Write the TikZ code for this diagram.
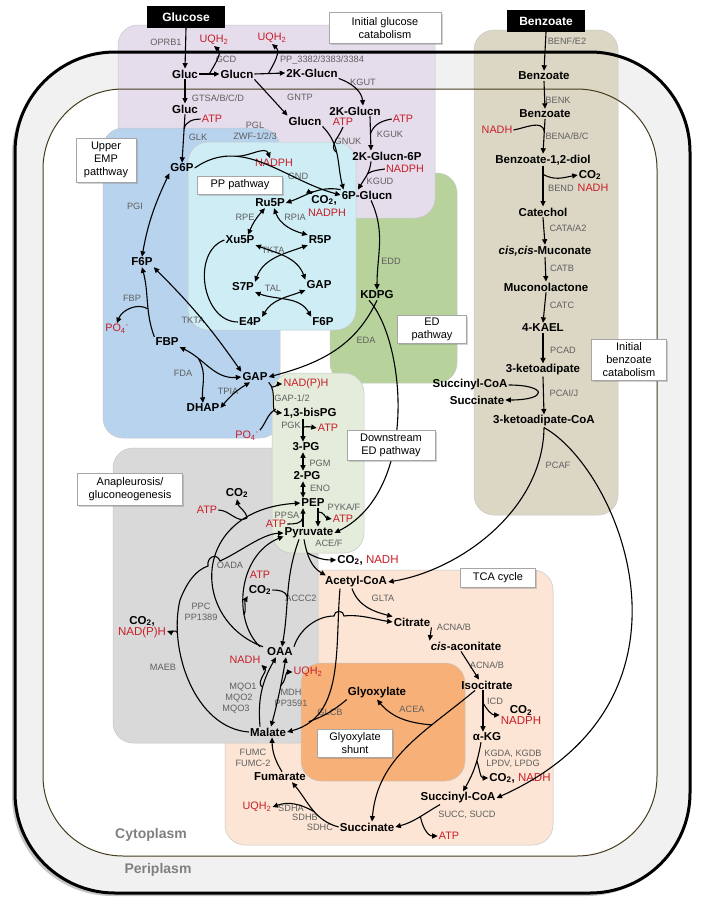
\documentclass[tikz,border=0pt]{standalone}
\usepackage{fontspec}
\setmainfont{Liberation Sans}
\usepackage{xcolor}
\usepackage{tikz}
\usetikzlibrary{arrows.meta,calc,shadows}

\definecolor{cofred}{RGB}{200,30,40}
\definecolor{enzgrey}{RGB}{95,95,95}
\definecolor{peri}{RGB}{241,241,241}
\definecolor{imem}{RGB}{70,60,30}
\definecolor{glcbg}{RGB}{229,221,236}
\definecolor{benzbg}{RGB}{220,215,196}
\definecolor{empbg}{RGB}{184,211,238}
\definecolor{ppbg}{RGB}{207,237,244}
\definecolor{edbg}{RGB}{183,211,155}
\definecolor{dsbg}{RGB}{228,236,220}
\definecolor{anabg}{RGB}{217,217,217}
\definecolor{tcabg}{RGB}{252,229,212}
\definecolor{gsbg}{RGB}{246,176,120}
\definecolor{cytogrey}{RGB}{128,128,128}

\tikzset{
  met/.style={font=\fontsize{11.5}{12.5}\selectfont\bfseries, inner sep=1pt},
  enz/.style={font=\fontsize{9.2}{10.5}\selectfont, text=enzgrey, inner sep=1pt, align=center},
  cof/.style={font=\fontsize{10.8}{12}\selectfont, text=cofred, inner sep=1pt},
  sbox/.style={fill=black, text=white, font=\fontsize{12}{14}\selectfont\bfseries, minimum width=78pt, minimum height=22pt},
  lab/.style={draw=black!35, fill=white, font=\fontsize{11}{13}\selectfont, align=center, inner sep=2pt,
    drop shadow={opacity=0.35, shadow xshift=1.5pt, shadow yshift=-1.5pt}},
  region/.style={draw=black!22, line width=0.5pt, rounded corners=20pt},
  rxn/.style={line width=1.1pt, -{Triangle[length=5.5pt,width=5pt]}},
  rxnb/.style={line width=1.1pt, {Triangle[length=5.5pt,width=5pt]}-{Triangle[length=5.5pt,width=5pt]}},
  side/.style={line width=1.1pt},
  compart/.style={font=\fontsize{14}{16}\selectfont\bfseries, text=cytogrey},
}

\begin{document}
\begin{tikzpicture}[x=1pt,y=-1pt]
\useasboundingbox (0,0) rectangle (705,908);

% cell envelope
\fill[peri, rounded corners=100pt, drop shadow={opacity=0.45, shadow xshift=-3pt, shadow yshift=-3pt}] (15,52) rectangle (690,893);
\fill[white, rounded corners=80pt] (43,89) rectangle (657,856);

% pathway areas
\draw[region, fill=edbg] (330,173) rectangle (457,383);
\draw[region, fill=glcbg] (118,25) rectangle (435,218);
\draw[region, fill=empbg] (103,128) rectangle (280,438);
\draw[region, fill=ppbg] (188,142) rectangle (356,330);
\draw[region, fill=benzbg] (474,30) rectangle (618,515);
\draw[region, fill=tcabg] (225,570) rectangle (553,845);
\draw[region, fill=anabg] (113,448) rectangle (318,743);
\draw[region, fill=dsbg] (272,373) rectangle (364,553);
\draw[region, fill=gsbg] (301,663) rectangle (465,781);

% membranes
\draw[imem, line width=1pt, rounded corners=80pt] (43,89) rectangle (657,856);
\draw[line width=3pt, rounded corners=100pt] (15,52) rectangle (690,893);

\node (cyto) at (151,835) [compart] {Cytoplasm};
\node (peril) at (158,870) [compart] {Periplasm};

% substrates
\node (glucbox) at (186,17) [sbox] {Glucose};
\node (benzbox) at (546,21) [sbox] {Benzoate};

% glucose entry and oxidation
\node (gluc1) at (185,74) [met] {Gluc};
\node (glucn1) at (237,74) [met] {Glucn};
\node (kglucn1) at (312,73) [met] {2K-Glucn};
\node (gluc2) at (185,109) [met] {Gluc};
\node (glucn2) at (305,121) [met] {Glucn};
\node (kglucn2) at (355,111) [met] {2K-Glucn};
\node (kglucnp) at (387,156) [met] {2K-Glucn-6P};
\node (pglucn) at (367,195) [met] {6P-Glucn};
\node (g6p) at (182,168) [met] {G6P};

% PP pathway
\node (ru5p) at (270,203) [met] {Ru5P};
\node (xu5p) at (240,240) [met] {Xu5P};
\node (r5p) at (320,240) [met] {R5P};
\node (s7p) at (243,287) [met] {S7P};
\node (gapp) at (319,285) [met] {GAP};
\node (e4p) at (250,322) [met] {E4P};
\node (f6pp) at (323,322) [met] {F6P};

% upper EMP and ED
\node (f6p) at (142,262) [met] {F6P};
\node (fbp) at (167,342) [met] {FBP};
\node (gap) at (255,377) [met] {GAP};
\node (dhap) at (203,408) [met] {DHAP};
\node (kdpg) at (377,295) [met] {KDPG};

% lower glycolysis
\node (bpg) at (310,413) [met] {1,3-bisPG};
\node (pg3) at (306,447) [met] {3-PG};
\node (pg2) at (307,476) [met] {2-PG};
\node (pep) at (313,503) [met] {PEP};
\node (pyr) at (309,533) [met] {Pyruvate};
\node (accoa) at (356,582) [met] {Acetyl-CoA};

% TCA cycle
\node (oaa) at (280,652) [met] {OAA};
\node (malate) at (268,732) [met] {Malate};
\node (fumarate) at (280,777) [met] {Fumarate};
\node (succinate) at (367,827) [met] {Succinate};
\node (succoa) at (458,798) [met] {Succinyl-CoA};
\node (akg) at (487,737) [met] {α-KG};
\node (isocit) at (487,685) [met] {Isocitrate};
\node (cisacon) at (466,646) [met] {{\itshape cis}-aconitate};
\node (citrate) at (412,622) [met] {Citrate};
\node (glyox) at (377,693) [met] {Glyoxylate};

% benzoate branch
\node (benz1) at (544,76) [met] {Benzoate};
\node (benz2) at (545,114) [met] {Benzoate};
\node (diol) at (543,160) [met] {Benzoate-1,2-diol};
\node (catechol) at (543,212) [met] {Catechol};
\node (muconate) at (545,251) [met] {{\itshape cis,cis}-Muconate};
\node (muconol) at (546,287) [met] {Muconolactone};
\node (kael) at (543,328) [met] {4-KAEL};
\node (ketoad) at (543,370) [met] {3-ketoadipate};
\node (ketoadcoa) at (544,421) [met] {3-ketoadipate-CoA};
\node (bsuccoa) at (470,385) [met] {Succinyl-CoA};
\node (bsucc) at (477,400) [met] {Succinate};

% cofactors
\node (uqha) at (214,40) [cof] {UQH\textsubscript{2}};
\node (uqhb) at (272,38) [cof] {UQH\textsubscript{2}};
\node (atpa) at (212,119) [cof] {ATP};
\node (atpb) at (343,122) [cof] {ATP};
\node (atpc) at (403,119) [cof] {ATP};
\node (nadpha) at (405,169) [cof] {NADPH};
\node (nadphb) at (274,163) [cof] {NADPH};
\node (co2a) at (324,200) [met] {CO\textsubscript{2},};
\node (nadphc) at (327,213) [cof] {NADPH};
\node (po4a) at (117,329) [cof] {PO\textsubscript{4}\textsuperscript{-}};
\node (nadphd) at (306,384) [cof] {NAD(P)H};
\node (po4b) at (247,436) [cof] {PO\textsubscript{4}\textsuperscript{-}};
\node (atpd) at (328,428) [cof] {ATP};
\node (atpe) at (343,519) [cof] {ATP};
\node (atpf) at (276,524) [cof] {ATP};
\node (co2nadha) at (368,560) [met] {CO\textsubscript{2}, \textcolor{cofred}{\mdseries NADH}};
\node (atpg) at (207,510) [cof] {ATP};
\node (co2b) at (237,493) [met] {CO\textsubscript{2}};
\node (atph) at (260,575) [cof] {ATP};
\node (co2c) at (260,590) [met] {CO\textsubscript{2}};
\node (co2nadphe) at (142,627) [met, align=center] {CO\textsubscript{2},\\[-1pt]\textcolor{cofred}{\mdseries NAD(P)H}};
\node (nadha) at (245,660) [cof] {NADH};
\node (uqhc) at (308,672) [cof] {UQH\textsubscript{2}};
\node (co2nadphf) at (521,715) [met, align=center] {CO\textsubscript{2}\\[-1pt]\textcolor{cofred}{\mdseries NADPH}};
\node (co2nadhg) at (520,778) [met] {CO\textsubscript{2}, \textcolor{cofred}{\mdseries NADH}};
\node (atpi) at (449,836) [cof] {ATP};
\node (uqhd) at (257,807) [cof] {UQH\textsubscript{2}};
\node (nadhb) at (497,130) [cof] {NADH};
\node (co2d) at (590,175) [met] {CO\textsubscript{2}};
\node (nadhc) at (593,188) [cof] {NADH};

% enzymes
\node (e-oprb) at (166,42) [enz] {OPRB1};
\node (e-gcd) at (226,59) [enz] {GCD};
\node (e-pp) at (322,60) [enz] {PP\_3382/3383/3384};
\node (e-kgut) at (363,82) [enz] {KGUT};
\node (e-gtsa) at (218,98) [enz] {GTSA/B/C/D};
\node (e-gntp) at (300,97) [enz] {GNTP};
\node (e-glk) at (198,137) [enz] {GLK};
\node (e-zwf) at (255,131) [enz] {PGL\\ZWF-1/2/3};
\node (e-gnuk) at (348,141) [enz] {GNUK};
\node (e-kguk) at (390,134) [enz] {KGUK};
\node (e-kgud) at (380,181) [enz] {KGUD};
\node (e-gnd) at (298,176) [enz] {GND};
\node (e-rpe) at (245,217) [enz] {RPE};
\node (e-rpia) at (295,217) [enz] {RPIA};
\node (e-tkta) at (273,250) [enz] {TKTA};
\node (e-tal) at (273,288) [enz] {TAL};
\node (e-tktb) at (193,320) [enz] {TKTA};
\node (e-pgi) at (135,206) [enz] {PGI};
\node (e-fbp) at (132,298) [enz] {FBP};
\node (e-fda) at (183,373) [enz] {FDA};
\node (e-tpia) at (228,391) [enz] {TPIA};
\node (e-edd) at (391,261) [enz] {EDD};
\node (e-eda) at (366,340) [enz] {EDA};
\node (e-gapd) at (292,398) [enz] {GAP-1/2};
\node (e-pgk) at (291,425) [enz] {PGK};
\node (e-pgm) at (320,463) [enz] {PGM};
\node (e-eno) at (320,488) [enz] {ENO};
\node (e-pyk) at (344,507) [enz] {PYKA/F};
\node (e-ppsa) at (287,515) [enz] {PPSA};
\node (e-ace) at (329,543) [enz] {ACE/F};
\node (e-glta) at (383,598) [enz] {GLTA};
\node (e-accc) at (301,598) [enz] {ACCC2};
\node (e-oada) at (230,565) [enz] {OADA};
\node (e-ppc) at (201,612) [enz] {PPC\\PP1389};
\node (e-maeb) at (163,667) [enz] {MAEB};
\node (e-mqoa) at (243,687) [enz] {MQO1};
\node (e-mqob) at (239,698) [enz] {MQO2};
\node (e-mqoc) at (236,709) [enz] {MQO3};
\node (e-mdh) at (291,698) [enz] {MDH\\PP3591};
\node (e-glcb) at (330,712) [enz] {GLCB};
\node (e-acea) at (412,709) [enz] {ACEA};
\node (e-acna) at (454,627) [enz] {ACNA/B};
\node (e-acnb) at (487,665) [enz] {ACNA/B};
\node (e-icd) at (495,701) [enz] {ICD};
\node (e-kgd) at (513,759) [enz] {KGDA, KGDB\\LPDV, LPDG};
\node (e-suc) at (467,815) [enz] {SUCC, SUCD};
\node (e-sdha) at (291,808) [enz] {SDHA};
\node (e-sdhb) at (305,817) [enz] {SDHB};
\node (e-sdhc) at (320,827) [enz] {SDHC};
\node (e-fumc) at (253,758) [enz] {FUMC\\FUMC-2};
\node (e-benf) at (567,41) [enz] {BENF/E2};
\node (e-benk) at (558,100) [enz] {BENK};
\node (e-bena) at (567,136) [enz] {BENA/B/C};
\node (e-bend) at (561,188) [enz] {BEND};
\node (e-cata) at (568,228) [enz] {CATA/A2};
\node (e-catb) at (562,268) [enz] {CATB};
\node (e-catc) at (562,305) [enz] {CATC};
\node (e-pcad) at (563,350) [enz] {PCAD};
\node (e-pcai) at (564,393) [enz] {PCAI/J};
\node (e-pcaf) at (558,465) [enz] {PCAF};

% glucose uptake and oxidation
\draw[rxn] (glucbox.south) -- (gluc1.north);
\draw[rxn] (gluc1.east) -- coordinate[pos=.5] (gcdm) (glucn1.west);
\draw[rxn] (gcdm) to[out=60,in=-40] (uqha.south);
\draw[rxn] (glucn1.east) -- coordinate[pos=.45] (ppm) (kglucn1.west);
\draw[rxn] (ppm) to[out=60,in=-40] (uqhb.south);
\draw[rxn] (gluc1.south) -- (gluc2.north);
\draw[rxn] (gluc2.south) -- coordinate[pos=.3] (glkm) (g6p.north);
\draw[side] (atpa.west) to[out=180,in=80] (glkm);
\draw[rxn] (glucn1.south east) -- (glucn2.north west);
\draw[rxn] (kglucn1.south east) to[out=-20,in=95] ([xshift=8pt]kglucn2.north);
\draw[rxn] (glucn2.south east) to[out=-45,in=105] coordinate[pos=.45] (gnukm) ([xshift=3pt]pglucn.north west);
\draw[side] (atpb.south) to[out=-110,in=150] (gnukm);
\draw[rxn] ([xshift=15pt]kglucn2.south) -- coordinate[pos=.5] (kgukm) ([xshift=-16pt]kglucnp.north);
\draw[side] (atpc.west) to[out=190,in=70] (kgukm);
\draw[rxn] ([xshift=-16pt]kglucnp.south) to[out=-95,in=60] coordinate[pos=.4] (kgudm) ([xshift=-9pt]pglucn.north);
\draw[side] (nadpha.west) to[out=-170,in=30] (kgudm);

% oxidative PP pathway
\draw[rxn] (g6p.east) to[out=35,in=165] coordinate[pos=.3] (zwfm) (pglucn.west);
\draw[rxn] (zwfm) to[out=0,in=110] ([xshift=-4pt]nadphb.north);
\draw[rxn] (pglucn.north west) to[out=170,in=20] coordinate[pos=.5] (gndm) (ru5p.east);
\draw[rxn] (gndm) to[out=110,in=150,looseness=2] ([xshift=2pt]co2a.north west);

% non-oxidative PP pathway
\draw[rxnb] ([xshift=-5pt]ru5p.south) to[bend right=10] ([xshift=8pt]xu5p.north);
\draw[rxnb] ([xshift=4pt]ru5p.south) to[out=-70,in=165] (r5p.north west);
\draw[rxnb] (xu5p.south east) to[out=-20,in=110] (gapp.north west);
\draw[rxnb] (r5p.south west) to[out=-160,in=70] (s7p.north east);
\draw[rxnb] (s7p.south east) to[out=-20,in=120] (f6pp.north west);
\draw[rxnb] (gapp.south west) to[out=-160,in=60] (e4p.north east);
\draw[side] (xu5p.west) to[out=-160,in=180,looseness=1.1] (e4p.west);
\draw[rxnb] (f6p.south east) to[bend left=5] (gap.north west);

% upper EMP
\draw[rxnb] (g6p.south west) to[out=-115,in=80] (f6p.north);
\draw[rxn] (fbp.north west) to[out=110,in=-75] coordinate[pos=.4] (fbpm) (f6p.south);
\draw[rxn] (fbpm) to[out=150,in=70] (po4a.north);
\draw[rxnb] (fbp.south east) to[out=-25,in=185] coordinate[pos=.3] (fdam) (gap.west);
\draw[rxn] (fdam) to[out=-60,in=95] (dhap.north);
\draw[rxnb] ([xshift=-5pt]gap.south) to[bend right=10] (dhap.east);

% ED pathway
\draw[rxn] ([xshift=4pt]pglucn.south) to[out=-65,in=90] (kdpg.north);
\draw[rxn] (kdpg.south) to[out=-115,in=15] (gap.east);
\draw[rxn] ([xshift=-8pt]kdpg.south) .. controls (405,340) and (420,490) .. (pyr.east);

% lower glycolysis
\draw[rxn] (gap.south east) to[out=-45,in=175] coordinate[pos=.15] (gapdm) coordinate[pos=.75] (gapdn) (bpg.west);
\draw[rxn] (gapdm) to[out=0,in=180] (nadphd.west);
\draw[side] (po4b.north east) to[out=50,in=-150] (gapdn);
\draw[rxn] ([xshift=-7pt]bpg.south) -- coordinate[pos=.35] (pgkm) ([xshift=-3pt]pg3.north);
\draw[rxn] (pgkm) to[out=10,in=170] (atpd.west);
\draw[rxnb] ([xshift=-3pt]pg3.south) -- ([xshift=-4pt]pg2.north);
\draw[rxnb] ([xshift=-4pt]pg2.south) -- ([xshift=-10pt]pep.north);
\draw[rxn] ([xshift=5pt]pep.south) -- coordinate[pos=.2] (pykm) ([xshift=9pt]pyr.north);
\draw[rxn] (pykm) to[out=0,in=170] (atpe.west);
\draw[rxn] ([xshift=-6pt]pyr.north) -- coordinate[pos=.5] (ppsam) ([xshift=-10pt]pep.south);
\draw[side] (atpf.east) to[out=0,in=-100] (ppsam);
\draw[rxn] ([xshift=-5pt]pyr.south) to[out=-80,in=150] coordinate[pos=.3] (acem) ([xshift=2pt]accoa.north west);
\draw[rxn] (acem) to[out=-30,in=180] (co2nadha.west);

% anapleurosis / gluconeogenesis
\coordinate (maebc) at (180,600);
\coordinate (hops) at (208,566);
\coordinate (hope) at (220,561);
\draw[rxn] (malate.west) .. controls (195,728) and (168,650) .. coordinate[pos=.8] (maem) (maebc)
  .. controls (187,582) and (196,570) .. (hops) to[out=100,in=110,looseness=1.8] (hope)
  .. controls (240,552) and (262,534) .. (pyr.west);
\draw[rxn] (maem) to[out=120,in=-20] ([yshift=-4pt]co2nadphe.east);
\draw[rxn] ([xshift=-3pt]oaa.north west) .. controls (190,620) and (190,510) .. coordinate[pos=.8] (pckm) (pep.west);
\draw[side] (atpg.east) to[out=0,in=-150] (pckm);
\draw[rxn] (pckm) to[out=100,in=-80] (co2b.south);
\draw[rxn] ([xshift=-6pt]oaa.north west) .. controls (232,620) and (238,555) .. coordinate[pos=.3] (oadam) ([yshift=3pt]pyr.south west);
\draw[rxn] (oadam) to[out=70,in=-120] (co2c.south west);
\draw[rxn] ([xshift=-10pt]pyr.south) to[out=-110,in=80] coordinate[pos=.55] (acccm) ([xshift=2pt]oaa.north);
\draw[side] (co2c.east) to[out=0,in=100] (acccm);
\draw[rxn] ([xshift=-8pt]malate.north) to[out=95,in=-120] coordinate[pos=.55] (mqom) ([xshift=-4pt]oaa.south);
\draw[rxn] (mqom) to[out=150,in=-45] (nadha.south east);
\draw[rxnb] ([xshift=6pt]oaa.south) to[out=-100,in=75] coordinate[pos=.4] (mdhm) ([xshift=3pt]malate.north);
\draw[rxn] (mdhm) to[out=40,in=180] (uqhc.west);

% TCA cycle
\coordinate (hopa) at (334,616);
\coordinate (hopb) at (344,616);
\draw[rxn] ([xshift=-4pt]accoa.south) to[out=-70,in=165] (citrate.north west);
\draw[rxn] (oaa.north east) .. controls (300,628) and (318,616) .. (hopa) to[out=90,in=90,looseness=1.6] (hopb)
  .. controls (360,614) and (378,620) .. (citrate.west);
\draw[rxn] (citrate.south east) -- (cisacon.north west);
\draw[rxn] ([xshift=-5pt]cisacon.south) -- ([xshift=-8pt]isocit.north);
\draw[rxn] ([xshift=-4pt]isocit.south) -- coordinate[pos=.3] (icdm) ([xshift=-4pt]akg.north);
\draw[rxn] (icdm) to[out=-60,in=180] (co2nadphf.west);
\draw[rxn] ([xshift=-6pt]akg.south) to[out=-100,in=60] coordinate[pos=.35] (kgdm) ([xshift=5pt]succoa.north);
\draw[rxn] (kgdm) to[out=-70,in=180] (co2nadhg.west);
\draw[rxn] ([xshift=-18pt]succoa.south) to[out=-150,in=15] coordinate[pos=.45] (sucm) (succinate.east);
\draw[rxn] (sucm) to[out=-80,in=180] (atpi.west);
\draw[rxn] (succinate.west) to[out=165,in=-50] coordinate[pos=.45] (sdhm) ([xshift=12pt]fumarate.south);
\draw[rxn] (sdhm) to[out=150,in=20] (uqhd.east);
\draw[rxn] ([xshift=2pt]fumarate.north) to[bend left=15] ([xshift=4pt]malate.south);

% glyoxylate shunt
\draw[rxn] ([xshift=-16pt]accoa.south) to[out=-95,in=15] coordinate[pos=.85] (glcbm) (malate.east);
\draw[side] (glyox.south west) to[out=-140,in=20] (glcbm);
\draw[rxn] ([xshift=-12pt]isocit.south) to[out=-140,in=85] coordinate[pos=.3] (aceam) ([xshift=5pt]succinate.north);
\draw[rxn] (aceam) to[out=175,in=-50] (glyox.south);

% benzoate catabolism
\draw[rxn] (benzbox.south) -- (benz1.north);
\draw[rxn] (benz1.south) -- (benz2.north);
\draw[rxn] (benz2.south) -- coordinate[pos=.35] (benam) (diol.north);
\draw[side] (nadhb.east) to[out=10,in=100] (benam);
\draw[rxn] (diol.south) -- coordinate[pos=.2] (bendm) (catechol.north);
\draw[rxn] (bendm) to[out=-30,in=190] (co2d.west);
\draw[rxn] (catechol.south) -- (muconate.north);
\draw[rxn] (muconate.south) -- (muconol.north);
\draw[rxn] (muconol.south) -- (kael.north);
\draw[rxn] (kael.south) -- (ketoad.north);
\draw[rxn] (ketoad.south) -- (ketoadcoa.north);
\draw[rxn] (bsuccoa.east) .. controls (548,385) and (548,400) .. (bsucc.east);
\draw[rxn] (ketoadcoa.south) .. controls (543,510) and (460,570) .. (accoa.east);
\draw[rxn] (ketoadcoa.south) .. controls (620,470) and (715,700) .. (succoa.east);

% area labels
\node (glclab) at (385,28) [lab, minimum width=112pt, minimum height=31pt] {Initial glucose\\catabolism};
\node (emplab) at (106,160) [lab, minimum width=60pt, minimum height=44pt] {Upper\\EMP\\patthway};
\node (pplab) at (240,185) [lab, minimum width=85pt, minimum height=18pt] {PP pathway};
\node (edlab) at (432,329) [lab, minimum width=69pt, minimum height=28pt] {ED\\pathway};
\node (dslab) at (391,445) [lab, minimum width=88pt, minimum height=30pt] {Downstream\\ED pathway};
\node (bzlab) at (629,360) [lab, minimum width=75pt, minimum height=41pt] {Initial\\benzoate\\catabolism};
\node (anlab) at (130,489) [lab, minimum width=105pt, minimum height=32pt] {Anapleurosis/\\gluconeogenesis};
\node (tcalab) at (498,578) [lab, minimum width=75pt, minimum height=19pt] {TCA cycle};
\node (gslab) at (355,743) [lab, minimum width=75pt, minimum height=28pt] {Glyoxylate\\shunt};
\end{tikzpicture}
\end{document}
